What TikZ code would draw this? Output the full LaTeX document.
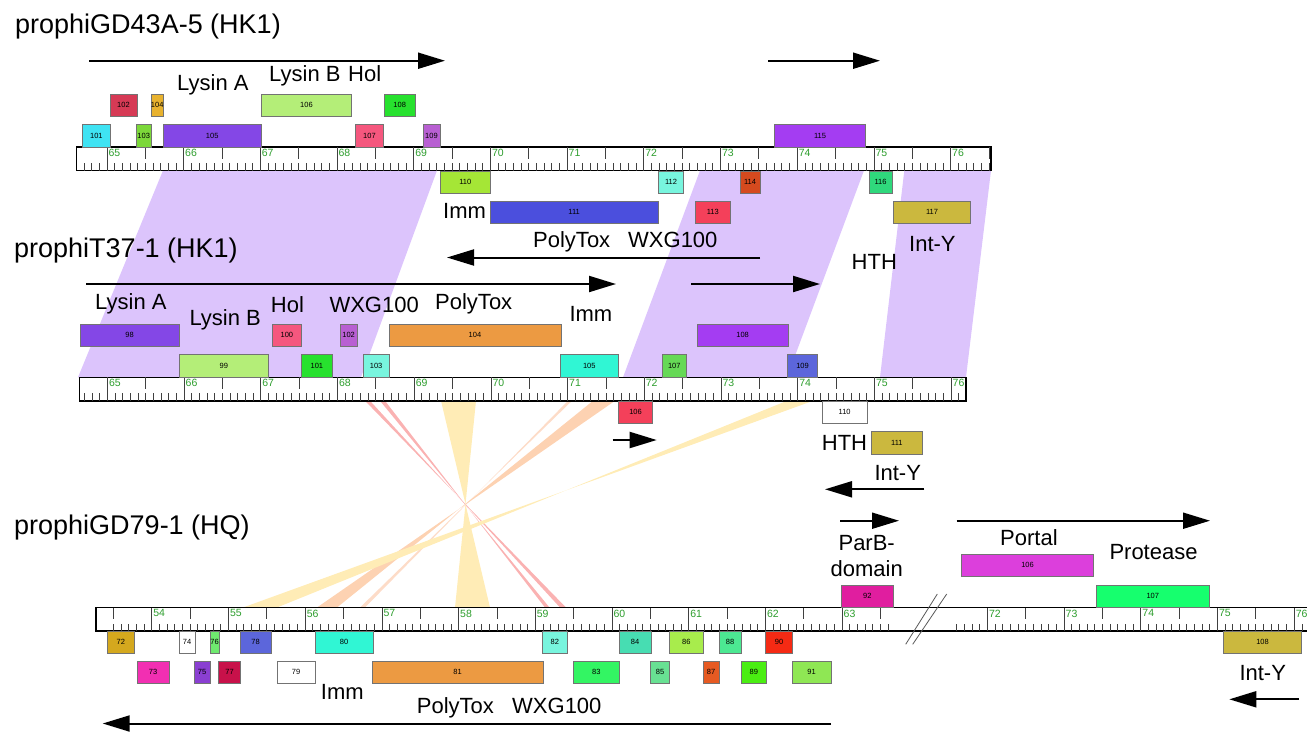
\documentclass[tikz,border=0pt]{standalone}
\usepackage{fontspec}
\setmainfont{Liberation Sans}
\usetikzlibrary{arrows.meta}
\definecolor{kbgreen}  {RGB}{ 46, 158,  46}
\definecolor{lavender} {RGB}{220, 196, 252}
\definecolor{rbred}    {RGB}{250, 178, 178}
\definecolor{rborange} {RGB}{253, 210, 178}
\definecolor{rbpale}   {RGB}{253, 220, 200}
\definecolor{rbyellow} {RGB}{255, 236, 182}
% gene colours
\definecolor{cyanA}    {RGB}{ 63, 227, 243}
\definecolor{crimsonA} {RGB}{214,  58,  85}
\definecolor{limeA}    {RGB}{124, 216,  58}
\definecolor{amber}    {RGB}{232, 178,  46}
\definecolor{lysA}     {RGB}{132,  71, 230}
\definecolor{lysB}     {RGB}{180, 238, 120}
\definecolor{hol}      {RGB}{245,  87, 126}
\definecolor{greenA}   {RGB}{ 39, 225,  46}
\definecolor{orchid}   {RGB}{184,  95, 210}
\definecolor{immA}     {RGB}{165, 230,  54}
\definecolor{blueA}    {RGB}{ 75,  79, 221}
\definecolor{aqua}     {RGB}{120, 245, 222}
\definecolor{redpink}  {RGB}{244,  64,  90}
\definecolor{rustA}    {RGB}{213,  74,  30}
\definecolor{violet}   {RGB}{164,  61, 242}
\definecolor{tealA}    {RGB}{ 47, 216, 124}
\definecolor{inty}     {RGB}{203, 184,  62}
\definecolor{ptox}     {RGB}{236, 154,  66}
\definecolor{turq}     {RGB}{ 48, 246, 212}
\definecolor{greenB}   {RGB}{102, 217,  86}
\definecolor{slate}    {RGB}{ 92, 102, 219}
\definecolor{goldB}    {RGB}{212, 168,  30}
\definecolor{magentaB} {RGB}{242,  47, 178}
\definecolor{purpleB}  {RGB}{138,  63, 210}
\definecolor{greenC}   {RGB}{111, 234, 111}
\definecolor{crimsonB} {RGB}{200,  17,  74}
\definecolor{greenD}   {RGB}{ 51, 245,  99}
\definecolor{tealB}    {RGB}{ 71, 221, 178}
\definecolor{greenE}   {RGB}{104, 225, 147}
\definecolor{limeB}    {RGB}{168, 236,  76}
\definecolor{rustB}    {RGB}{230,  90,  34}
\definecolor{greenF}   {RGB}{ 76, 232, 146}
\definecolor{greenG}   {RGB}{ 74, 238,  18}
\definecolor{redB}     {RGB}{245,  42,  20}
\definecolor{limeC}    {RGB}{143, 231,  84}
\definecolor{parb}     {RGB}{224,  30, 159}
\definecolor{portal}   {RGB}{220,  63, 220}
\definecolor{protease} {RGB}{ 22, 255, 110}

% one gene: track, number, x1, x2, top y, fill
\newcommand{\gene}[6]{%
  \draw[genebox, fill=#6] (#3,#5) rectangle (#4,#5+22.7);
  \node[genelab] (#1#2) at ({(#3+#4)/2},{#5+11.35}) {#2};}

% ruler ticks: track, x of kb #4, top y, kb, first/last tenth step
\newcommand{\kbticks}[6]{%
  \foreach \t in {#5,...,#6}{%
    \pgfmathsetmacro{\tx}{#2+\t*7.67}%
    \pgfmathtruncatemacro{\tm}{mod(\t+1000,10)}%
    \ifnum\tm=0
      \pgfmathtruncatemacro{\tkb}{#4+round(\t/10)}%
      \draw[tickln] (\tx,#3) -- (\tx,#3+23.5);
      \node[kblab] (#1kb\tkb) at (\tx+1.5,#3+2) {\tkb};
    \else
      \draw[tickln] (\tx,#3+23.5) -- (\tx,#3+16);
      \ifnum\tm=5
        \draw[tickln] (\tx,#3) -- (\tx,#3+11.5);
      \fi
    \fi
  }}

\begin{document}
\begin{tikzpicture}[x=1pt, y=-1pt,
  rulerbox/.style={draw=black, line width=1.4pt, fill=white},
  tickln/.style={line width=0.55pt, draw=black!75},
  kblab/.style={font=\fontsize{10.5}{11}\selectfont, text=kbgreen, anchor=north west, inner sep=0pt},
  genebox/.style={draw=black!55, line width=0.8pt},
  genelab/.style={font=\fontsize{7.5}{8}\selectfont, inner sep=0pt},
  lbl/.style={font=\fontsize{22}{26}\selectfont, anchor=base west, inner sep=0pt},
  titlelbl/.style={font=\fontsize{27}{32}\selectfont, anchor=base west, inner sep=0pt},
  orient/.style={-{Triangle[length=27pt, width=16pt]}, line width=2pt},
  breakln/.style={draw=black!65, line width=0.8pt},
]
\useasboundingbox (0,0) rectangle (1307,732);

% ── homology ribbons: GD43A-5 <-> T37-1 ──────────────────────
\fill[lavender] (163,170.5) -- (437,170.5) -- (361,377.3) -- (78,377.3) -- cycle;
\fill[lavender] (700,170.5) -- (864,170.5) -- (787,377.3) -- (623,377.3) -- cycle;
\fill[lavender] (904.3,170.5) -- (991,170.5) -- (966,377.3) -- (880,377.3) -- cycle;

% ── inverted ribbons: T37-1 <-> GD79-1 ───────────────────────
\fill[rbred]    (365,400.8) -- (370,400.8) -- (560,607.5) -- (566,607.5) -- cycle;
\fill[rbred]    (380,400.8) -- (385,400.8) -- (545,607.5) -- (549.5,607.5) -- cycle;
\fill[rbyellow] (441,400.8) -- (476,400.8) -- (455,607.5) -- (490,607.5) -- cycle;
\fill[rbpale]   (568,400.8) -- (572,400.8) -- (360,607.5) -- (365,607.5) -- cycle;
\fill[rborange] (593,400.8) -- (615,400.8) -- (317,607.5) -- (337,607.5) -- cycle;
\fill[rbyellow] (787,400.8) -- (813,400.8) -- (243,607.5) -- (277,607.5) -- cycle;

% ── rulers ───────────────────────────────────────────────────
\draw[rulerbox] (76.3,147) rectangle (991,170.5);
\kbticks{t}{106.8}{147}{65}{-3}{115}
\draw[rulerbox] (79.3,377.3) rectangle (966,400.8);
\kbticks{m}{107.3}{377.3}{65}{-3}{111}
\draw[rulerbox] (96,607.5) rectangle (1320,631);
\kbticks{b}{151.7}{607.5}{54}{-5}{96}
\kbticks{b}{987.3}{607.5}{72}{-4}{45}
\draw[breakln] (905.7,644.3) -- (937.3,594);
\draw[breakln] (912.7,644.3) -- (946.7,594);

% ── prophiGD43A-5 genes ──────────────────────────────────────
\gene{t}{102}{110}{137}{94}{crimsonA}
\gene{t}{104}{151.5}{163}{94}{amber}
\gene{t}{106}{261.5}{351.5}{94}{lysB}
\gene{t}{108}{384}{415.5}{94}{greenA}
\gene{t}{101}{82.7}{110}{124.5}{cyanA}
\gene{t}{103}{136}{151.5}{124.5}{limeA}
\gene{t}{105}{163}{261.5}{124.5}{lysA}
\gene{t}{107}{355.5}{383.5}{124.5}{hol}
\gene{t}{109}{423}{440}{124.5}{orchid}
\gene{t}{115}{774.5}{865.5}{124.5}{violet}
\gene{t}{110}{440.7}{490}{171}{immA}
\gene{t}{112}{658.7}{683.3}{171}{aqua}
\gene{t}{114}{740}{760}{171}{rustA}
\gene{t}{116}{869}{892}{171}{tealA}
\gene{t}{111}{490}{658.3}{201}{blueA}
\gene{t}{113}{695.7}{730}{201}{redpink}
\gene{t}{117}{893.3}{970.7}{201}{inty}

% ── prophiT37-1 genes ────────────────────────────────────────
\gene{m}{98}{80}{179.3}{324}{lysA}
\gene{m}{100}{272.3}{301.5}{324}{hol}
\gene{m}{102}{340}{357.3}{324}{orchid}
\gene{m}{104}{389}{561}{324}{ptox}
\gene{m}{108}{697}{788.3}{324}{violet}
\gene{m}{99}{179.3}{268.3}{354.7}{lysB}
\gene{m}{101}{301}{332.7}{354.7}{greenA}
\gene{m}{103}{363.3}{389}{354.7}{aqua}
\gene{m}{105}{560.3}{618.3}{354.7}{turq}
\gene{m}{107}{662.3}{686.3}{354.7}{greenB}
\gene{m}{109}{787.7}{817.3}{354.7}{slate}
\gene{m}{106}{618.3}{652.7}{401}{redpink}
\gene{m}{110}{822}{867.3}{401}{white}
\gene{m}{111}{871}{922.7}{431.5}{inty}

% ── prophiGD79-1 genes ───────────────────────────────────────
\gene{b}{106}{961.7}{1093.3}{554}{portal}
\gene{b}{92}{841.7}{893}{585}{parb}
\gene{b}{107}{1096.3}{1209.3}{585}{protease}
\gene{b}{72}{107.7}{134}{631}{goldB}
\gene{b}{74}{179}{195}{631}{white}
\gene{b}{76}{210}{219.3}{631}{greenC}
\gene{b}{78}{240}{271}{631}{slate}
\gene{b}{80}{315}{373.3}{631}{turq}
\gene{b}{82}{542.7}{567}{631}{aqua}
\gene{b}{84}{619}{651}{631}{tealB}
\gene{b}{86}{669.3}{703.3}{631}{limeB}
\gene{b}{88}{719}{741}{631}{greenF}
\gene{b}{90}{765.3}{792.7}{631}{redB}
\gene{b}{108}{1223.3}{1301.7}{631}{inty}
\gene{b}{73}{137}{169.3}{661}{magentaB}
\gene{b}{75}{194.3}{210}{661}{purpleB}
\gene{b}{77}{218.7}{240.3}{661}{crimsonB}
\gene{b}{79}{277.3}{315}{661}{white}
\gene{b}{81}{372.3}{543}{661}{ptox}
\gene{b}{83}{573.3}{619.3}{661}{greenD}
\gene{b}{85}{650.7}{669.3}{661}{greenE}
\gene{b}{87}{703}{719}{661}{rustB}
\gene{b}{89}{741}{766.7}{661}{greenG}
\gene{b}{91}{792.3}{831}{661}{limeC}

% ── titles ───────────────────────────────────────────────────
\node[titlelbl] (ttitle) at (15,33)  {prophiGD43A-5 (HK1)};
\node[titlelbl] (mtitle) at (14,257) {prophiT37-1 (HK1)};
\node[titlelbl] (btitle) at (14,534) {prophiGD79-1 (HQ)};

% ── annotations ──────────────────────────────────────────────
\node[lbl] (tlysa) at (177,90.7)   {Lysin A};
\node[lbl] (tlysb) at (269,81.7)   {Lysin B};
\node[lbl] (thol)  at (348,81.7)   {Hol};
\node[lbl] (timm)  at (443,218)    {Imm};
\node[lbl] (tptox) at (533,247.5)  {PolyTox};
\node[lbl] (twxg)  at (628,247.5)  {WXG100};
\node[lbl] (thth)  at (851.5,269.3){HTH};
\node[lbl] (tinty) at (909,251)    {Int-Y};

\node[lbl] (mlysa) at (95,309.3)   {Lysin A};
\node[lbl] (mlysb) at (189.3,325.7){Lysin B};
\node[lbl] (mhol)  at (270.7,312.7){Hol};
\node[lbl] (mwxg)  at (329.3,312.7){WXG100};
\node[lbl] (mptox) at (435,309.3)  {PolyTox};
\node[lbl] (mimm)  at (569.3,321.7){Imm};
\node[lbl] (mhth)  at (821.7,450.7){HTH};
\node[lbl] (minty) at (874.3,480)  {Int-Y};

\node[lbl, anchor=base] (bparb)   at (866.7,550.7) {ParB-};
\node[lbl, anchor=base] (bdomain) at (866.7,576)   {domain};
\node[lbl] (bportal) at (1000,545.7)  {Portal};
\node[lbl] (bprot)   at (1109.3,559)  {Protease};
\node[lbl] (binty)   at (1239.3,680)  {Int-Y};
\node[lbl] (bimm)    at (320.7,699.3) {Imm};
\node[lbl] (bptox)   at (416.7,713.3) {PolyTox};
\node[lbl] (bwxg)    at (512,713.3)   {WXG100};

% ── transcription direction ──────────────────────────────────
\draw[orient] (89,60.7) -- (445,60.7);
\draw[orient] (768,60.7) -- (880,60.7);
\draw[orient] (760,257.5) -- (447,257.5);
\draw[orient] (86,284) -- (616,284);
\draw[orient] (691,284) -- (820,284);
\draw[orient] (612.7,440) -- (656.7,440);
\draw[orient] (924.3,489.3) -- (825,489.3);
\draw[orient] (840,520.7) -- (899,520.7);
\draw[orient] (956.7,520.7) -- (1210,520.7);
\draw[orient] (1299,699.3) -- (1229.3,699.3);
\draw[orient] (831,723.5) -- (102.7,723.5);

\end{tikzpicture}
\end{document}
